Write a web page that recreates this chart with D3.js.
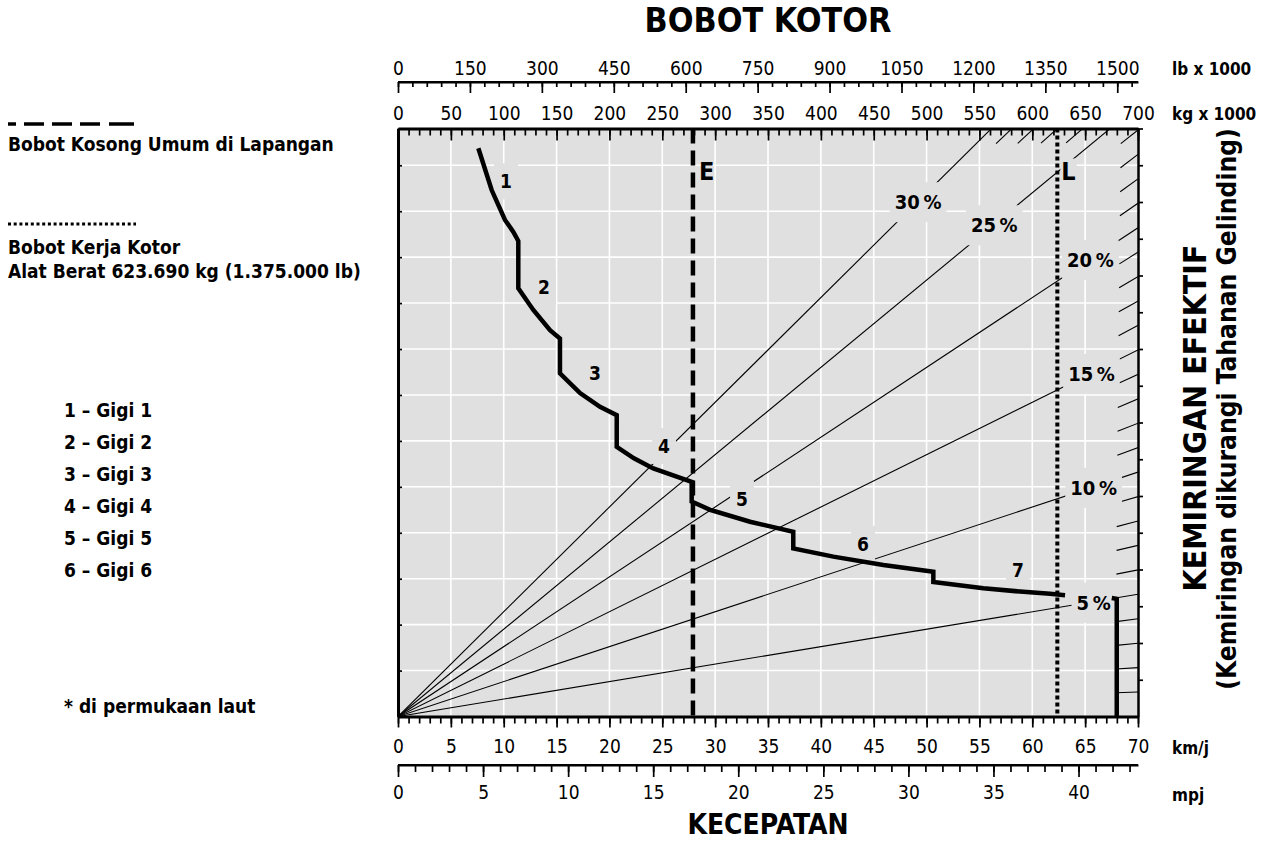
<!DOCTYPE html>
<html><head><meta charset="utf-8">
<script src="https://cdn.jsdelivr.net/npm/d3@7"></script>
<style>
html,body{margin:0;padding:0;background:#fff;}
svg{display:block;}
.num{font-family:"Liberation Sans Narrow","Arial Narrow","DejaVu Sans Condensed",sans-serif;font-stretch:condensed;}
.txt{font-family:"DejaVu Sans Condensed","DejaVu Sans",sans-serif;font-stretch:condensed;font-weight:bold;}
</style></head><body>
<svg id="c" width="1267" height="848"></svg>
<script>
// ---------- DATA ----------
const kmhTicks = d3.range(0, 71, 1);
const kmhLabels = d3.range(0, 71, 5);
const kmhGrid = d3.range(5, 70, 5);
const mphTicks = d3.range(0, 44, 1);
const mphLabels = d3.range(0, 41, 5);
const kgTicks = d3.range(0, 701, 10);
const kgLabels = d3.range(0, 701, 50);
const lbTicks = d3.range(0, 1531, 30);
const lbLabels = d3.range(0, 1501, 150);
const yGridTicks = d3.range(1, 13, 1);
const yRightTicks = d3.range(1, 17, 1).map(d => d * 0.8);

const grades = [5, 10, 15, 20, 25, 30];
const gradeLabelKg = [658, 658, 656, 655, 564, 492];
const minorGrades = d3.range(1, 30).filter(g => g % 5 !== 0);
const gradeFactor = 0.00076; // rimpull units per tonne per percent

const rimpullSpeed = [7.60, 8.86, 10.12, 10.91, 11.38, 11.38, 12.80, 14.38, 15.32, 15.32, 17.22, 19.11, 20.69, 20.69, 22.32, 24.15, 27.78, 27.78, 29.52, 33.30, 37.39, 37.39, 41.18, 45.91, 50.64, 50.64, 55.37, 58.84, 61.68, 63.10];
const rimpullValue = [12.37, 11.46, 10.81, 10.55, 10.35, 9.32, 8.85, 8.41, 8.23, 7.47, 7.04, 6.74, 6.56, 5.87, 5.62, 5.40, 5.11, 4.68, 4.50, 4.24, 4.02, 3.66, 3.48, 3.30, 3.15, 2.93, 2.79, 2.72, 2.67, 2.64];
const maxSpeedSpeed = [67.52, 67.99, 67.99];
const maxSpeedValue = [2.58, 2.56, 0];

const gearNames = ["1", "2", "3", "4", "5", "6", "7"];
const gearLabelSpeed = [10.22, 13.81, 18.64, 25.16, 32.54, 43.99, 58.65];
const gearLabelValue = [11.65, 9.34, 7.48, 5.89, 4.74, 3.76, 3.19];

const emptyWeightKg = 279;
const loadedWeightKg = 623.69;

const legendList = ["1 – Gigi 1", "2 – Gigi 2", "3 – Gigi 3", "4 – Gigi 4", "5 – Gigi 5", "6 – Gigi 6"];

// ---------- LAYOUT ----------
const W = 1267, H = 848;
const plot = {l: 398, r: 1138, t: 128.5, b: 716.5};
const bg = "#e0e0e0";
const x = d3.scaleLinear().domain([0, 70]).range([plot.l, plot.r]);
const xKg = d3.scaleLinear().domain([0, 700]).range([plot.l, plot.r]);
const xLb = d3.scaleLinear().domain([0, 700 / 0.45359237]).range([plot.l, plot.r]);
const xMph = d3.scaleLinear().domain([0, 70 / 1.609344]).range([plot.l, plot.r]);
const y = d3.scaleLinear().domain([0, 12.8]).range([plot.b, plot.t]);

const svg = d3.select("#c");
svg.append("rect").attr("width", W).attr("height", H).attr("fill", "#fff");

const defs = svg.append("defs");
defs.append("clipPath").attr("id", "clip").append("rect")
  .attr("x", plot.l).attr("y", plot.t).attr("width", plot.r - plot.l).attr("height", plot.b - plot.t);

// background
svg.append("rect").attr("x", plot.l).attr("y", plot.t).attr("width", plot.r - plot.l)
  .attr("height", plot.b - plot.t).attr("fill", bg);

// grid
const grid = svg.append("g").attr("stroke", "#fff").attr("stroke-width", 1.6);
grid.selectAll("line.v").data(kmhGrid).join("line").attr("class", "v")
  .attr("x1", d => x(d)).attr("x2", d => x(d)).attr("y1", plot.t).attr("y2", plot.b);
grid.selectAll("line.h").data(yGridTicks).join("line").attr("class", "h")
  .attr("x1", plot.l).attr("x2", plot.r).attr("y1", d => y(d)).attr("y2", d => y(d));

// grade lines
const gradeG = svg.append("g").attr("clip-path", "url(#clip)").attr("stroke", "#000").attr("stroke-width", 1.1).attr("fill", "none");
grades.forEach(g => {
  gradeG.append("line").attr("x1", xKg(0)).attr("y1", y(0))
    .attr("x2", xKg(700)).attr("y2", y(700 * g * gradeFactor));
});
minorGrades.forEach(g => {
  let kgExit = 700, yExit = 700 * g * gradeFactor;
  if (yExit > 12.8) { yExit = 12.8; kgExit = 12.8 / (g * gradeFactor); }
  const px = xKg(kgExit), py = y(yExit);
  const ox = xKg(0), oy = y(0);
  const len = Math.hypot(px - ox, py - oy);
  const ux = (px - ox) / len, uy = (py - oy) / len;
  gradeG.append("line").attr("x1", px - 22 * ux).attr("y1", py - 22 * uy).attr("x2", px + 2 * ux).attr("y2", py + 2 * uy);
});

// labels with knockouts
function knockLabel(parent, tx, ty, str, size, padx, pady, anchor) {
  const g = parent.append("g");
  const t = g.append("text").attr("class", "num").attr("x", tx).attr("y", ty)
    .attr("font-size", size).attr("font-weight", "bold").attr("text-anchor", anchor || "middle")
    .attr("dominant-baseline", "central").text(str);
  const b = t.node().getBBox();
  g.insert("rect", "text").attr("x", b.x - padx).attr("y", b.y - pady)
    .attr("width", b.width + 2 * padx).attr("height", b.height + 2 * pady).attr("fill", bg);
  return t;
}
const labG = svg.append("g");
grades.forEach((g, i) => {
  const kg = gradeLabelKg[i];
  knockLabel(labG, xKg(kg), y(kg * g * gradeFactor) + 1, g + "\u2009%", 20, 5, 8);
});
gearNames.forEach((n, i) => {
  knockLabel(labG, x(gearLabelSpeed[i]), y(gearLabelValue[i]), n, 19, 6, 7);
});

// rimpull curve
const line = d3.line().x(d => x(d[0])).y(d => y(d[1]));
svg.append("path").datum(d3.zip(rimpullSpeed, rimpullValue)).attr("d", line)
  .attr("fill", "none").attr("stroke", "#000").attr("stroke-width", 4.5)
  .attr("stroke-linejoin", "miter").attr("stroke-miterlimit", 3);
svg.append("path").datum(d3.zip(maxSpeedSpeed, maxSpeedValue)).attr("d", line)
  .attr("fill", "none").attr("stroke", "#000").attr("stroke-width", 4.5)
  .attr("stroke-linejoin", "miter");

// E and L lines
svg.append("line").attr("x1", xKg(emptyWeightKg)).attr("x2", xKg(emptyWeightKg))
  .attr("y1", plot.t).attr("y2", plot.b).attr("stroke", "#000").attr("stroke-width", 4.5)
  .attr("stroke-dasharray", "15,7");
svg.append("line").attr("x1", xKg(loadedWeightKg)).attr("x2", xKg(loadedWeightKg))
  .attr("y1", plot.t).attr("y2", plot.b).attr("stroke", "#000").attr("stroke-width", 4)
  .attr("stroke-dasharray", "4,3");
svg.append("text").attr("class", "num").attr("x", xKg(emptyWeightKg) + 6).attr("y", 180)
  .attr("font-size", 25).attr("font-weight", "bold").text("E");
knockLabel(svg, xKg(loadedWeightKg) + 4, 171, "L", 25, 1, -2, "start");

// axes
function styleAxis(g, sw) {
  g.selectAll(".tick line").attr("stroke-width", 1.7);
  g.select(".domain").attr("stroke-width", sw);
  g.selectAll("text").attr("class", "num").attr("font-size", 19).attr("fill", "#000");
  g.attr("font-family", null);
}
let a;
// top kg (plot top)
a = svg.append("g").attr("transform", `translate(0,${plot.t})`)
  .call(d3.axisTop(xKg).tickValues(kgTicks).tickSize(-7).tickFormat(""));
a.select(".domain").remove(); a.selectAll(".tick line").attr("stroke-width", 1.7);
a = svg.append("g").attr("transform", `translate(0,${plot.t})`)
  .call(d3.axisTop(xKg).tickValues(kgLabels).tickSizeInner(-12).tickSizeOuter(0).tickPadding(9).tickFormat(d3.format("d")));
styleAxis(a, 3);
// lb axis
a = svg.append("g").attr("transform", `translate(0,82)`)
  .call(d3.axisTop(xLb).tickValues(lbTicks).tickSize(-5).tickFormat(""));
a.select(".domain").remove(); a.selectAll(".tick line").attr("stroke-width", 1.7);
a = svg.append("g").attr("transform", `translate(0,82)`)
  .call(d3.axisTop(xLb).tickValues(lbLabels).tickSizeInner(-11).tickSizeOuter(0).tickPadding(7).tickFormat(d3.format("d")));
styleAxis(a, 2.2);
svg.append("line").attr("x1", plot.l).attr("x2", plot.r).attr("y1", 82).attr("y2", 82).attr("stroke", "#000").attr("stroke-width", 2.2);
// bottom km/h
a = svg.append("g").attr("transform", `translate(0,${plot.b})`)
  .call(d3.axisBottom(x).tickValues(kmhTicks).tickSize(7).tickFormat(""));
a.select(".domain").remove(); a.selectAll(".tick line").attr("stroke-width", 1.7);
a = svg.append("g").attr("transform", `translate(0,${plot.b})`)
  .call(d3.axisBottom(x).tickValues(kmhLabels).tickSizeInner(11).tickSizeOuter(0).tickPadding(12).tickFormat(d3.format("d")));
styleAxis(a, 3);
// mph
a = svg.append("g").attr("transform", `translate(0,765)`)
  .call(d3.axisBottom(xMph).tickValues(mphTicks).tickSize(7).tickFormat(""));
a.select(".domain").remove(); a.selectAll(".tick line").attr("stroke-width", 1.7);
a = svg.append("g").attr("transform", `translate(0,765)`)
  .call(d3.axisBottom(xMph).tickValues(mphLabels).tickSizeInner(12).tickSizeOuter(0).tickPadding(9).tickFormat(d3.format("d")));
styleAxis(a, 2.2);
svg.append("line").attr("x1", plot.l).attr("x2", plot.r).attr("y1", 765).attr("y2", 765).attr("stroke", "#000").attr("stroke-width", 2.2);
// left / right
a = svg.append("g").attr("transform", `translate(${plot.l},0)`)
  .call(d3.axisRight(y).tickValues(yGridTicks).tickSizeInner(4).tickSizeOuter(0).tickFormat(""));
styleAxis(a, 3);
a = svg.append("g").attr("transform", `translate(${plot.r},0)`)
  .call(d3.axisRight(y).tickValues(yRightTicks).tickSizeInner(5).tickSizeOuter(0).tickFormat(""));
styleAxis(a, 2.5);

// unit labels
function txt(xp, yp, s, size, anchor) {
  return svg.append("text").attr("class", "txt").attr("x", xp).attr("y", yp)
    .attr("font-size", size).attr("text-anchor", anchor || "start").text(s);
}
txt(1172, 75, "lb x 1000", 17);
txt(1172, 120, "kg x 1000", 17);
txt(1172, 754, "km/j", 17);
txt(1172, 801, "mpj", 17);

function fit(sel, target) {
  const fs = parseFloat(sel.attr("font-size"));
  const len = sel.node().getComputedTextLength();
  sel.attr("font-size", fs * target / len);
}
fit(txt(768, 32, "BOBOT KOTOR", 30, "middle"), 247);
txt(768, 834, "KECEPATAN", 28, "middle");
const r1 = svg.append("text").attr("class", "txt").attr("font-size", 30).attr("text-anchor", "middle")
  .attr("transform", "translate(1206,418) rotate(-90)").text("KEMIRINGAN EFEKTIF");
fit(r1, 347);
const r2 = svg.append("text").attr("class", "txt").attr("font-size", 26).attr("text-anchor", "middle")
  .attr("transform", "translate(1236,409) rotate(-90)").text("(Kemiringan dikurangi Tahanan Gelinding)");
fit(r2, 562);

// left legend
svg.append("line").attr("x1", 8).attr("x2", 134).attr("y1", 124).attr("y2", 124)
  .attr("stroke", "#000").attr("stroke-width", 3.5).attr("stroke-dasharray", "8,8,20,8,20,8,20,9,25");
txt(8, 151, "Bobot Kosong Umum di Lapangan", 19);
svg.append("line").attr("x1", 8).attr("x2", 136).attr("y1", 224).attr("y2", 224)
  .attr("stroke", "#000").attr("stroke-width", 3).attr("stroke-dasharray", "3,2.7");
txt(8, 254, "Bobot Kerja Kotor", 19);
txt(8, 278, "Alat Berat 623.690 kg (1.375.000 lb)", 19);
legendList.forEach((s, i) => txt(64, 417 + i * 32, s, 19));
txt(64, 713, "* di permukaan laut", 19);
</script>
</body></html>
